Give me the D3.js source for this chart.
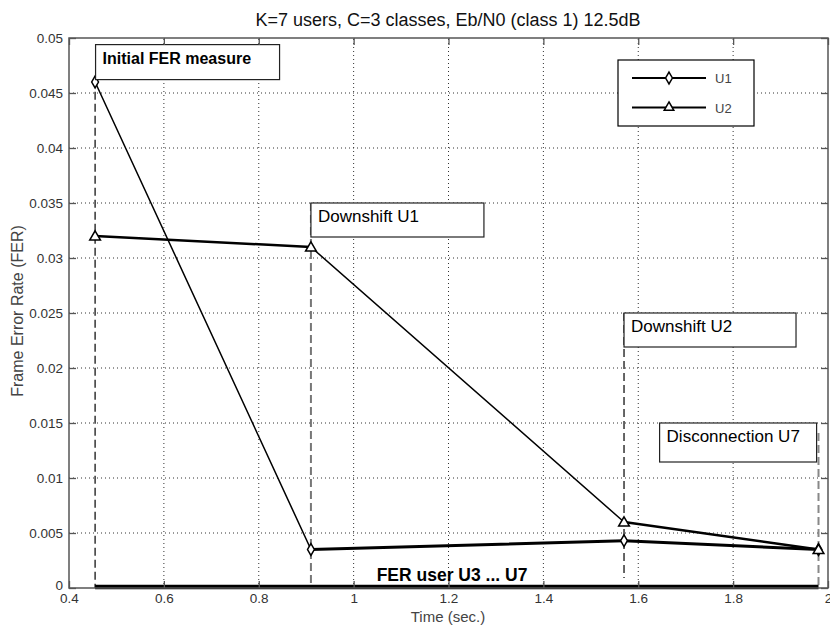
<!DOCTYPE html>
<html>
<head>
<meta charset="utf-8">
<script src="https://cdn.jsdelivr.net/npm/d3@7"></script>
<style>
  body { margin: 0; background: #fff; }
  svg { font-family: "Liberation Sans", Arial, sans-serif; }
</style>
</head>
<body>
<div class="container"></div>
<script>
const WIDTH = 830;
const HEIGHT = 628;
const margin = {top: 38, right: 2, bottom: 40, left: 69};

// event times (sec.)
var times = [0.455, 0.91, 1.57, 1.98];
var u1 = [0.046, 0.0035, 0.0043, 0.0035];
var u2 = [0.032, 0.031, 0.006, 0.0035];
var u37 = [0, 0, 0, 0];

var xTicks = [0.4, 0.6, 0.8, 1, 1.2, 1.4, 1.6, 1.8, 2];
var yTicks = [0, 0.005, 0.01, 0.015, 0.02, 0.025, 0.03, 0.035, 0.04, 0.045, 0.05];

var noteLabels = ["Initial FER measure", "Downshift U1", "Downshift U2", "Disconnection U7"];
var noteX = [0.456, 0.91, 1.57, 1.645];
var noteY = [0.0494, 0.035, 0.025, 0.015];
var eventTop = [0.0462, 0.035, 0.025, 0.0141];
var eventBottom = [0, 0, 0.0009, 0];

var svg, x, y;

var loadChart = function(){
    svg = d3.select(".container").append("svg")
        .attr("width", WIDTH)
        .attr("height", HEIGHT);

    x = d3.scaleLinear().domain([0.4, 2]).range([margin.left, WIDTH - margin.right]);
    y = d3.scaleLinear().domain([0, 0.05]).range([HEIGHT - margin.bottom, margin.top]);

    drawGrid();
    drawEvents();
    drawSeries();
    drawNotes();
    drawAxes();
    drawLegend();
    drawLabels();
}

var drawGrid = function(){
    var g = svg.append("g").attr("stroke", "#333").attr("stroke-dasharray", "1,3");
    g.selectAll(".gx").data(xTicks.slice(1, -1)).enter().append("line")
        .attr("x1", d => x(d)).attr("x2", d => x(d))
        .attr("y1", y(0)).attr("y2", y(0.05));
    g.selectAll(".gy").data(yTicks.slice(1, -1)).enter().append("line")
        .attr("y1", d => y(d)).attr("y2", d => y(d))
        .attr("x1", x(0.4)).attr("x2", x(2));
}

var drawEvents = function(){
    var colors = ["#000", "#777", "#000", "#888"];
    var widths = [1.2, 2, 1.2, 2];
    svg.selectAll(".event").data(times).enter().append("line")
        .attr("x1", d => x(d)).attr("x2", d => x(d))
        .attr("y1", (d, i) => y(eventTop[i]))
        .attr("y2", (d, i) => y(eventBottom[i]))
        .attr("stroke", (d, i) => colors[i])
        .attr("stroke-width", (d, i) => widths[i])
        .attr("stroke-dasharray", "8,4");
}

var drawSeries = function(){
    var segWidth = function(vals, widths){
        var segs = [];
        for (var i = 0; i < vals.length - 1; i++) {
            segs.push({x1: times[i], y1: vals[i], x2: times[i + 1], y2: vals[i + 1], w: widths[i]});
        }
        return segs;
    }
    var drawSegs = function(segs){
        svg.append("g").selectAll("line").data(segs).enter().append("line")
            .attr("x1", d => x(d.x1)).attr("y1", d => y(d.y1))
            .attr("x2", d => x(d.x2)).attr("y2", d => y(d.y2))
            .attr("stroke", "#000")
            .attr("stroke-width", d => d.w)
            .attr("stroke-linecap", "round");
    }
    drawSegs(segWidth(u1, [1.5, 3, 3]));
    drawSegs(segWidth(u2, [2.5, 1.5, 2.5]));

    svg.append("path")
        .datum(u37)
        .attr("fill", "none")
        .attr("stroke", "#000")
        .attr("stroke-width", 4.5)
        .attr("d", d3.line().x((d, i) => x(times[i])).y(d => y(d) - 1));

    svg.selectAll(".m1").data(u1).enter().append("path")
        .attr("transform", (d, i) => "translate(" + x(times[i]) + "," + y(d) + ")")
        .attr("d", d3.symbol().type(d3.symbolDiamond).size(40))
        .attr("fill", "#fff").attr("stroke", "#000").attr("stroke-width", 1.5);

    svg.selectAll(".m2").data(u2).enter().append("path")
        .attr("transform", (d, i) => "translate(" + x(times[i]) + "," + (y(d) + 1) + ")")
        .attr("d", d3.symbol().type(d3.symbolTriangle).size(50))
        .attr("fill", "#fff").attr("stroke", "#000").attr("stroke-width", 1.5);
}

var drawNotes = function(){
    var widths = [184, 173, 172, 157];
    var heights = [35, 34, 34, 39];
    var weights = ["bold", "normal", "normal", "normal"];
    var sizes = ["16px", "17px", "17px", "17px"];
    var g = svg.selectAll(".note").data(noteLabels).enter().append("g")
        .attr("transform", (d, i) => "translate(" + x(noteX[i]) + "," + y(noteY[i]) + ")");
    g.append("rect")
        .attr("width", (d, i) => widths[i])
        .attr("height", (d, i) => heights[i])
        .attr("fill", "#fff")
        .attr("stroke", "#222").attr("stroke-width", 1.2);
    g.append("text")
        .attr("x", 7).attr("y", 19)
        .attr("font-size", (d, i) => sizes[i])
        .attr("font-weight", (d, i) => weights[i])
        .attr("fill", "#000")
        .text(d => d);

    svg.append("text")
        .attr("x", 452).attr("y", 581)
        .attr("text-anchor", "middle")
        .attr("font-size", "17.5px")
        .attr("font-weight", "bold")
        .text("FER user U3 ... U7");
}

var drawAxes = function(){
    var axisColor = "#555";
    svg.append("rect")
        .attr("x", x(0.4)).attr("y", y(0.05))
        .attr("width", x(2) - x(0.4)).attr("height", y(0) - y(0.05))
        .attr("fill", "none").attr("stroke", axisColor).attr("stroke-width", 1.5);

    var bottom = svg.append("g").attr("transform", "translate(0," + y(0) + ")")
        .call(d3.axisBottom(x).tickValues(xTicks).tickSize(-7).tickPadding(5).tickFormat(d3.format("")));
    var top = svg.append("g").attr("transform", "translate(0," + y(0.05) + ")")
        .call(d3.axisTop(x).tickValues(xTicks).tickSize(-7).tickFormat(""));
    var left = svg.append("g").attr("transform", "translate(" + x(0.4) + ",0)")
        .call(d3.axisLeft(y).tickValues(yTicks).tickSize(-7).tickPadding(6).tickFormat(d3.format("")));
    var right = svg.append("g").attr("transform", "translate(" + x(2) + ",0)")
        .call(d3.axisRight(y).tickValues(yTicks).tickSize(-7).tickFormat(""));

    [bottom, top, left, right].forEach(function(a){
        a.select(".domain").remove();
        a.selectAll("line").attr("stroke", axisColor).attr("stroke-width", 1.3);
        a.selectAll("text").attr("fill", "#333").attr("font-size", "13.5px")
            .attr("font-family", "'Liberation Sans', Arial, sans-serif");
    });
    left.selectAll("text").filter(d => d === 0).attr("dy", "0.1em");
}

var drawLegend = function(){
    var labels = ["U1", "U2"];
    var symbols = [d3.symbolDiamond, d3.symbolTriangle];
    var g = svg.append("g").attr("transform", "translate(618,60)");
    g.append("rect").attr("width", 136).attr("height", 66)
        .attr("fill", "#fff").attr("stroke", "#000").attr("stroke-width", 1.2);
    var row = g.selectAll(".row").data(labels).enter().append("g")
        .attr("transform", (d, i) => "translate(0," + (18 + i * 29.5) + ")");
    row.append("line").attr("x1", 14).attr("x2", 88)
        .attr("stroke", "#000").attr("stroke-width", 1.8);
    row.append("path")
        .attr("transform", "translate(51,0)")
        .attr("d", (d, i) => d3.symbol().type(symbols[i]).size(40)())
        .attr("fill", "#fff").attr("stroke", "#000").attr("stroke-width", 1.5);
    row.append("text").attr("x", 97).attr("y", 5)
        .attr("font-size", "13px").attr("fill", "#444")
        .text(d => d);
}

var drawLabels = function(){
    svg.append("text")
        .attr("x", 448).attr("y", 26)
        .attr("text-anchor", "middle")
        .attr("font-size", "18px")
        .attr("fill", "#111")
        .text("K=7 users, C=3 classes, Eb/N0 (class 1) 12.5dB");

    svg.append("text")
        .attr("x", 448).attr("y", 622)
        .attr("text-anchor", "middle")
        .attr("font-size", "15px")
        .attr("fill", "#444")
        .text("Time (sec.)");

    svg.append("text")
        .attr("transform", "translate(23,311) rotate(-90)")
        .attr("text-anchor", "middle")
        .attr("font-size", "16px")
        .attr("fill", "#444")
        .text("Frame Error Rate (FER)");
}

window.onload = loadChart;
</script>
</body>
</html>
